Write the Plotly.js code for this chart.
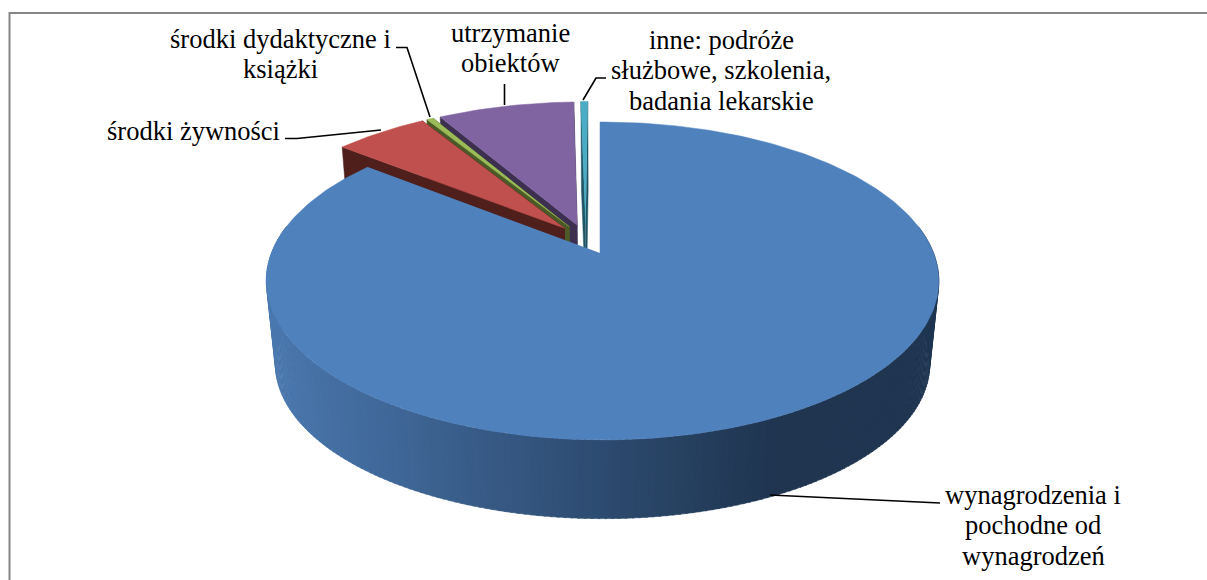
<!DOCTYPE html>
<html><head><meta charset="utf-8">
<script src="https://cdn.plot.ly/plotly-3.0.0.min.js"></script>
<style>html,body{margin:0;padding:0;background:#fff}#c{width:1207px;height:580px}</style>
</head><body><div id="c"></div>
<script>
const categories = ['wynagrodzenia i pochodne od wynagrodzeń','środki żywności','środki dydaktyczne i książki','utrzymanie obiektów','inne: podróże służbowe, szkolenia, badania lekarskie'];
const shares = [85.7, 5.5, 0.4, 8.0, 0.4];
const topColors = ['#4F81BD','#C0504D','#9BBB59','#8064A2','#4BACC6'];
const wallColors = ['#1F3550','#4F1F1C','#4B5A26','#3C2F50','#1F5565'];
const labelLines = [
  ['wynagrodzenia i','pochodne od','wynagrodzeń'],
  ['środki żywności'],
  ['środki dydaktyczne i','książki'],
  ['utrzymanie','obiektów'],
  ['inne: podróże','służbowe, szkolenia,','badania lekarskie']
];

// projection of the tilted disc into the page
const k=0.176, m=-0.0075, A=331, B=154, ax=600, ay=253, e=0.1;
function proj(X,Y,z){
  const w=1+k*Y+m*X; let x=ax+A*X/w, y=ay-B*Y/w;
  const s=1-0.027*z;
  return [ax+2+(x-ax-2)*s, 281+(y-281)*s+83*z];
}
const total=shares.reduce((a,b)=>a+b,0);
const deg=Math.PI/180;
let acc=0;
const slices=shares.map((v,i)=>{const a0=acc/total*360;acc+=v;const a1=acc/total*360;return {i,a0,a1,mid:(a0+a1)/2};});
const bm=slices[0].mid*deg, cd=[-e*Math.sin(bm),-e*Math.cos(bm)];
slices.forEach(s=>{s.c=[cd[0]+e*Math.sin(s.mid*deg),cd[1]+e*Math.cos(s.mid*deg)];});
const rim=(s,a,z)=>proj(s.c[0]+Math.sin(a*deg),s.c[1]+Math.cos(a*deg),z);
const traces=[];
function poly(pts,color,name,lw){
  traces.push({type:'scatter',mode:'lines',x:pts.map(p=>p[0]),y:pts.map(p=>p[1]),fill:'toself',fillcolor:color,
    line:{color:color,width:lw===undefined?0.5:lw},hoverinfo:'skip',showlegend:false,name:name||''});
}
function arc(s,a0,a1,z){const n=Math.max(2,Math.ceil(Math.abs(a1-a0)));const r=[];for(let j=0;j<=n;j++)r.push(rim(s,a0+(a1-a0)*j/n,z));return r;}
function drawSmall(s){
  const ap0=proj(s.c[0],s.c[1],0), ap1=proj(s.c[0],s.c[1],1);
  poly([ap0,rim(s,s.a0,0),rim(s,s.a0,1),ap1],wallColors[s.i]);
  poly([ap0,rim(s,s.a1,0),rim(s,s.a1,1),ap1],wallColors[s.i]);
  poly([ap0].concat(arc(s,s.a0,s.a1,0)),topColors[s.i],categories[s.i]);
}
[3,4,2,1].forEach(i=>drawSmall(slices[i]));

// gradient wall of the main slice
const blue=slices[0];
const stops=[[270,[74,120,175]],[450,[58,95,140]],[600,[45,75,112]],[770,[31,53,80]],[950,[31,53,80]]];
function wallColor(x){
  for(let j=0;j<stops.length-1;j++){const a=stops[j],b=stops[j+1];
    if(x<=b[0]){const t=Math.max(0,(x-a[0])/(b[0]-a[0]));return 'rgb('+a[1].map((c,n)=>Math.round(c+(b[1][n]-c)*t)).join(',')+')';}}
  return 'rgb(31,53,80)';
}
for(let a=80;a<280;a+=1){
  const p=[rim(blue,a,0),rim(blue,a+1.3,0),rim(blue,a+1.3,1),rim(blue,a,1)];
  poly(p,wallColor((p[0][0]+p[2][0])/2),'',0.6);
}
const bAp=proj(0,0,0);
poly([bAp].concat(arc(blue,blue.a0,blue.a1,0)),topColors[0],categories[0]);

// leader lines
const leaders=[
  {x:[770,927,940],y:[495,503,503]},
  {x:[285,297,381],y:[138.5,138.5,130]},
  {x:[396,407,430],y:[47.5,47.5,117]},
  {x:[504.5,504.5],y:[84,105]},
  {x:[606,596,583],y:[78,78,100]}
];
leaders.forEach(l=>traces.push({type:'scatter',mode:'lines',x:l.x,y:l.y,line:{color:'#000',width:1.6},hoverinfo:'skip',showlegend:false}));

// label anchors (centre x, first line centre y)
const labelAt=[[1033,495],[193,131],[280,38.5],[510,32.5],[721,40]];
const annotations=[];
labelLines.forEach((ls,i)=>ls.forEach((t,j)=>annotations.push({
  text:t,x:labelAt[i][0],y:labelAt[i][1]+j*30.3,xref:'x',yref:'y',showarrow:false,xanchor:'center',yanchor:'middle',
  font:{family:'"Liberation Serif",serif',size:26.5,color:'#000'}})));

const layout={width:1207,height:580,margin:{l:0,r:0,t:0,b:0},paper_bgcolor:'#fff',plot_bgcolor:'#fff',showlegend:false,
  xaxis:{range:[0,1207],visible:false,fixedrange:true},
  yaxis:{range:[580,0],visible:false,fixedrange:true},
  annotations,
  shapes:[{type:'rect',xref:'x',yref:'y',x0:9.5,y0:13,x1:1300,y1:640,line:{color:'#868686',width:2},fillcolor:'rgba(0,0,0,0)',layer:'below'}]
};
Plotly.newPlot('c',traces,layout,{displayModeBar:false,staticPlot:true});
</script></body></html>
